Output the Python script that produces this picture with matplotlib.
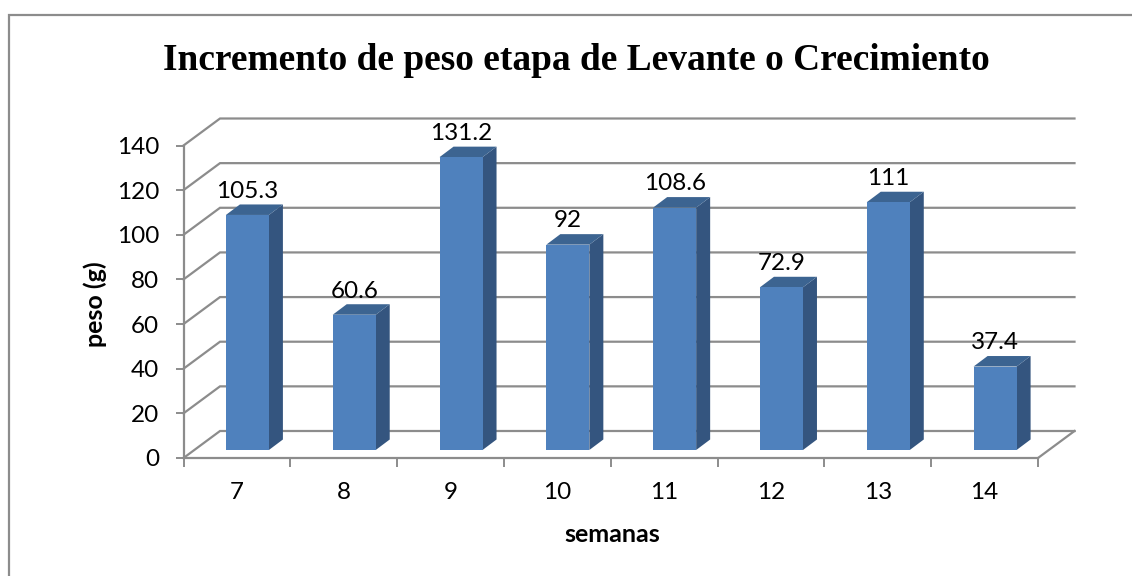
#!/usr/bin/env python
"""Weight gain per week, drawn as a pseudo-3D column chart."""

import matplotlib
matplotlib.use('Agg')
import matplotlib.pyplot as plt
from matplotlib.patches import Polygon

W, H = 1132, 576

semanas = ['7', '8', '9', '10', '11', '12', '13', '14']
peso = [105.3, 60.6, 131.2, 92, 108.6, 72.9, 111, 37.4]
y_ticks = [0, 20, 40, 60, 80, 100, 120, 140]

GREY = '#8c8c8c'
FRONT = '#4f81bd'
SIDE = '#34557f'
TOP = '#3c6491'

# front plane of the chart box, in pixels
LEFT, RIGHT = 183.5, 1038
BOTTOM, TOP_PX = 458, 145.5

fig = plt.figure(figsize=(W / 100, H / 100), dpi=100)
ax = fig.add_axes([LEFT / W, 1 - BOTTOM / H, (RIGHT - LEFT) / W, (BOTTOM - TOP_PX) / H])
ax.set_xlim(0, len(semanas))
ax.set_ylim(0, 140)

# pixel sizes expressed in data units
px_x = len(semanas) / (RIGHT - LEFT)
px_y = 140 / (BOTTOM - TOP_PX)
depth_x = 36.5 * px_x
depth_y = 27 * px_y

# walls and floor lines
for v in y_ticks:
    ax.plot([0, depth_x, len(semanas) + depth_x], [v, v + depth_y, v + depth_y],
            color=GREY, lw=1.6, clip_on=False, zorder=1, solid_joinstyle='miter')
ax.plot([len(semanas), len(semanas) + depth_x], [0, depth_y],
        color=GREY, lw=1.6, clip_on=False, zorder=1)

# columns
bar_w = 43 * px_x
off_x = 10.5 * px_x
off_y = 8 * px_y
side_x = 14 * px_x
side_y = 10.5 * px_y
for i, v in enumerate(peso):
    x0 = i + 0.5 - bar_w / 2 + off_x
    x1 = x0 + bar_w
    y0 = off_y
    y1 = off_y + v
    ax.add_patch(Polygon([(x1, y0), (x1 + side_x, y0 + side_y), (x1 + side_x, y1 + side_y), (x1, y1)],
                         fc=SIDE, ec='none', clip_on=False, zorder=3))
    ax.add_patch(Polygon([(x0, y1), (x0 + side_x, y1 + side_y), (x1 + side_x, y1 + side_y), (x1, y1)],
                         fc=TOP, ec='none', clip_on=False, zorder=3))
    ax.add_patch(Polygon([(x0, y0), (x1, y0), (x1, y1), (x0, y1)],
                         fc=FRONT, ec='none', clip_on=False, zorder=4))
    ax.text((x0 + x1) / 2, y1 + side_y + 1.2, str(v), ha='center', va='bottom',
            fontsize=17.5, family='Lato', color='black', zorder=5, clip_on=False)

# axes
for s in ('top', 'right'):
    ax.spines[s].set_visible(False)
for s in ('left', 'bottom'):
    ax.spines[s].set_color(GREY)
    ax.spines[s].set_linewidth(1.6)
ax.set_yticks(y_ticks)
ax.set_yticklabels([str(v) for v in y_ticks], fontsize=17.5, family='Lato')
ax.set_xticks(range(len(semanas) + 1))
ax.set_xticklabels([''] * (len(semanas) + 1))
ax.tick_params(axis='y', color=GREY, width=1.4, length=5.5, pad=12)
ax.tick_params(axis='x', color=GREY, width=1.4, length=6.5)
for i, s in enumerate(semanas):
    ax.annotate(s, (i + 0.5, 0), xytext=(0, -17.5), textcoords='offset points', ha='center', va='top',
                fontsize=17.5, family='Lato')

fig.text(612 / W, 1 - 535 / H, 'semanas', ha='center', va='center', fontsize=18,
         family='Lato', weight='bold')
fig.text(95 / W, 1 - 304 / H, 'peso (g)', ha='center', va='center', rotation=90, fontsize=18,
         family='Lato', weight='bold')
fig.text(576 / W, 1 - 61 / H, 'Incremento de peso etapa de Levante o Crecimiento', ha='center', va='center',
         fontsize=26.9, family='Liberation Serif', weight='bold')

# chart frame: only top and left edges show in the crop
fig.add_artist(plt.Line2D([9 / W, 9 / W, 1], [0, 1 - 15 / H, 1 - 15 / H], color='#8c8c8c', lw=1.6,
                          solid_joinstyle='miter'))

fig.savefig('out.png', dpi=100)
